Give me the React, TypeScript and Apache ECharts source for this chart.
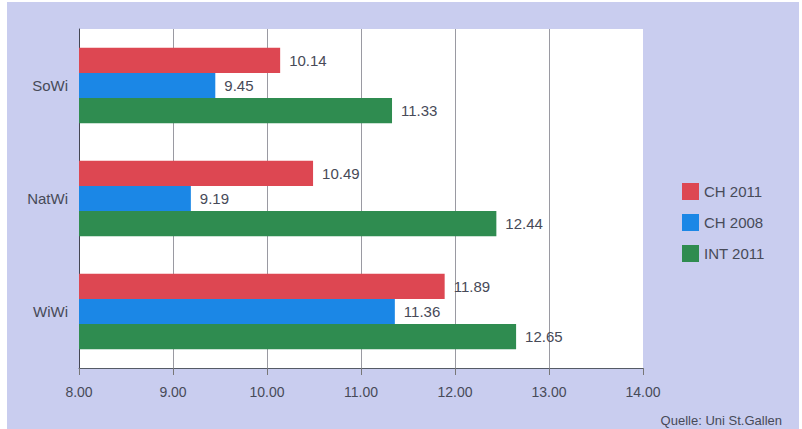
import React, { useEffect, useRef } from "react";
import * as echarts from "echarts";

const categories = ["SoWi", "NatWi", "WiWi"];
const seriesNames = ["CH 2011", "CH 2008", "INT 2011"];
const ch2011 = [10.14, 10.49, 11.89];
const ch2008 = [9.45, 9.19, 11.36];
const int2011 = [11.33, 12.44, 12.65];
const colors = ["#dd4752", "#1b87e6", "#2f8c50"];
const source = "Quelle: Uni St.Gallen";

export default function App() {
  const ref = useRef<HTMLDivElement>(null);
  useEffect(() => {
    document.body.style.margin = "0";
    const chart = echarts.init(ref.current!, null, { renderer: "svg" });
    const font = "'Liberation Sans', Arial, sans-serif";
    const txt = "#474a58";
    const grid = "#9a9aa2";
    const data = [ch2011, ch2008, int2011];
    chart.setOption({
      animation: false,
      backgroundColor: "#ffffff",
      textStyle: { fontFamily: font },
      graphic: [
        {
          type: "rect",
          z: -10,
          shape: { x: 7, y: 2, width: 792, height: 427 },
          style: { fill: "#c9cdef" },
          silent: true,
        },
        {
          type: "text",
          right: 20,
          top: 414,
          style: { text: source, fill: txt, font: `13px ${font}` },
        },
      ],
      legend: {
        orient: "vertical",
        left: 677,
        top: 178,
        itemWidth: 17,
        itemHeight: 17,
        itemGap: 14,
        icon: "rect",
        textStyle: { color: txt, fontSize: 15, fontFamily: font },
        data: seriesNames,
      },
      grid: {
        left: 79,
        right: 159,
        top: 29,
        bottom: 61,
        show: true,
        backgroundColor: "#ffffff",
        borderWidth: 0,
      },
      xAxis: {
        type: "value",
        min: 8,
        max: 14,
        interval: 1,
        axisLine: { show: true, lineStyle: { color: "#555a66", width: 1 } },
        axisTick: { show: true, length: 7, lineStyle: { color: "#777" } },
        splitLine: {
          show: true,
          lineStyle: {
            color: [grid, grid, grid, grid, grid, grid, "rgba(0,0,0,0)"],
            width: 1,
          },
        },
        axisLabel: {
          color: txt,
          fontSize: 14,
          margin: 17,
          formatter: (v: number) => v.toFixed(2),
        },
      },
      yAxis: {
        type: "category",
        inverse: true,
        data: categories,
        axisLine: { show: true, lineStyle: { color: "#444652", width: 1 } },
        axisTick: { show: false },
        axisLabel: { color: txt, fontSize: 15, margin: 11 },
      },
      series: seriesNames.map((name, i) => ({
        name,
        type: "bar",
        data: data[i],
        barGap: "0%",
        barCategoryGap: "33%",
        itemStyle: { color: colors[i] },
        label: {
          show: true,
          position: "right",
          distance: 9,
          color: txt,
          fontSize: 15,
          formatter: (p: any) => Number(p.value).toFixed(2),
        },
      })),
    });
    return () => chart.dispose();
  }, []);
  return <div ref={ref} style={{ width: 802, height: 429 }} />;
}
